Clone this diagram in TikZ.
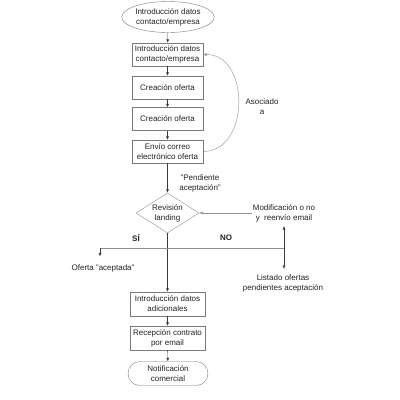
\documentclass[tikz,border=0pt]{standalone}
\usepackage{fontspec}
\setmainfont{Liberation Sans}
\usetikzlibrary{shapes.geometric,arrows.meta}
\definecolor{bordergray}{HTML}{7A7A7A}
\definecolor{linegray}{HTML}{3A3A3A}
\definecolor{lightline}{HTML}{909090}
\definecolor{txtgray}{HTML}{222222}
\tikzset{
  every node/.style={font=\fontsize{8}{10}\selectfont, text=txtgray, align=center},
  procbox/.style={draw=bordergray, rectangle, minimum width=71pt, minimum height=23pt, inner sep=1pt},
  widebox/.style={procbox, minimum width=75pt, minimum height=24pt},
  termbox/.style={draw=bordergray, rectangle, rounded corners=12pt, minimum width=80pt, minimum height=24pt, inner sep=1pt},
  startbox/.style={draw=bordergray, ellipse, minimum width=82pt, minimum height=31pt, inner sep=0pt},
  decbox/.style={draw=lightline, diamond, aspect=1.575, minimum width=63pt, minimum height=40pt, inner sep=0pt},
  lbl/.style={inner sep=1pt},
  conn/.style={draw=linegray, -{Latex[length=3.5pt,width=3pt]}},
  plainline/.style={draw=lightline},
}
\begin{document}
\begin{tikzpicture}[x=1pt,y=-1pt]
\useasboundingbox (0,0) rectangle (400,400);
% nodes
\node[startbox] (n0) at (168,17) {Introducción datos\\contacto/empresa};
\node[procbox] (b1) at (167.5,54.5) {Introducción datos\\contacto/empresa};
\node[procbox] (b2) at (167.5,87.5) {Creación oferta};
\node[procbox] (b3) at (167.5,119) {Creación oferta};
\node[procbox] (b4) at (167.5,151.5) {Envío correo\\electrónico oferta};
\node[decbox] (dia) at (167.5,213) {Revisión\\landing};
\node[widebox] (b5) at (167.5,304) {Introducción datos\\adicionales};
\node[widebox] (b6) at (167.5,338) {Recepción contrato\\por email};
\node[termbox] (n7) at (168,373.5) {Notificación\\comercial};
% labels
\node[lbl] (pend) at (200,183) {"Pendiente\\aceptación"};
\node[lbl] (asoc) at (262,107) {Asociado\\a};
\node[lbl] (modif) at (284,213) {Modificación o no\\y\ \ reenvío email};
\node[lbl, font=\fontsize{8}{10}\selectfont\bfseries] (si) at (136,238) {SÍ};
\node[lbl, font=\fontsize{8}{10}\selectfont\bfseries] (no) at (226,238) {NO};
\node[lbl] (ofer) at (103,268) {Oferta "aceptada"};
\node[lbl] (list) at (283,283) {Listado ofertas\\pendientes aceptación};
% coordinates
\coordinate (jmain) at (167.5,248);
\coordinate (jleft) at (100,248);
\coordinate (jright) at (284,248);
\coordinate (ofertip) at (100,256.5);
\coordinate (modtip) at (284,226);
\coordinate (listtip) at (284,269);
% connectors
\draw[conn] (n0) -- (b1);
\draw[conn] (b1) -- (b2);
\draw[conn] (b2) -- (b3);
\draw[conn] (b3) -- (b4);
\draw[conn] (b4) -- (dia.north);
\draw[conn] (dia.south) -- (b5.north);
\draw[conn] (b5) -- (b6);
\draw[conn] (b6) -- (n7);
\draw[conn, draw=lightline] (b4.east) .. controls +(47,0) and +(47,0) .. (b1.east);
\draw[conn, draw=lightline] (modif.west) -- (dia.east);
\draw[plainline] (jleft) -- (jright);
\draw[conn] (jleft) -- (ofertip);
\draw[conn] (jright) -- (modtip);
\draw[conn] (jright) -- (listtip);
\end{tikzpicture}
\end{document}
